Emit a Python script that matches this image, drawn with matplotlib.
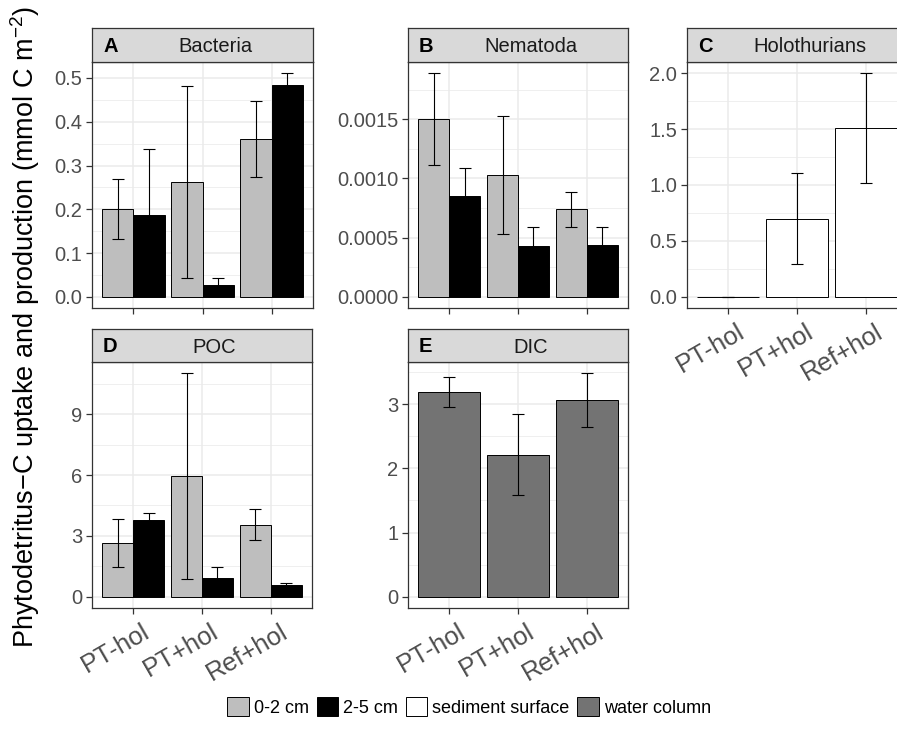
import matplotlib
matplotlib.use("Agg")
import matplotlib.pyplot as plt
from matplotlib.patches import Patch
from matplotlib.transforms import ScaledTranslation
import numpy as np

plt.rcParams['font.family'] = ['Liberation Sans', 'DejaVu Sans']
plt.rcParams['mathtext.fontset'] = 'custom'
plt.rcParams['mathtext.rm'] = 'Liberation Sans'
plt.rcParams['mathtext.it'] = 'Liberation Sans:italic'
plt.rcParams['mathtext.default'] = 'regular'

# ---------------- data ----------------
treatments = ["PT-hol", "PT+hol", "Ref+hol"]

bact_02 = [0.201, 0.262, 0.361]
bact_02_sd = [0.069, 0.220, 0.087]
bact_25 = [0.186, 0.027, 0.485]
bact_25_sd = [0.152, 0.015, 0.026]

nema_02 = [0.00150, 0.00103, 0.00074]
nema_02_sd = [0.00039, 0.00050, 0.00015]
nema_25 = [0.00085, 0.00043, 0.00044]
nema_25_sd = [0.00024, 0.00016, 0.00015]

holo = [0.0, 0.70, 1.51]
holo_sd = [0.0, 0.41, 0.49]

poc_02 = [2.64, 5.94, 3.56]
poc_02_sd = [1.19, 5.08, 0.77]
poc_25 = [3.80, 0.94, 0.59]
poc_25_sd = [0.33, 0.53, 0.07]

dic = [3.19, 2.21, 3.06]
dic_sd = [0.23, 0.63, 0.42]

ticks_A = [0.0, 0.1, 0.2, 0.3, 0.4, 0.5]
labels_A = ["0.0", "0.1", "0.2", "0.3", "0.4", "0.5"]
ticks_B = [0.0, 0.0005, 0.0010, 0.0015]
labels_B = ["0.0000", "0.0005", "0.0010", "0.0015"]
ticks_C = [0.0, 0.5, 1.0, 1.5, 2.0]
labels_C = ["0.0", "0.5", "1.0", "1.5", "2.0"]
ticks_D = [0, 3, 6, 9]
labels_D = ["0", "3", "6", "9"]
ticks_E = [0, 1, 2, 3]
labels_E = ["0", "1", "2", "3"]

legend_labels = ["0-2 cm", "2-5 cm", "sediment surface", "water column"]
col_02 = "#bebebe"
col_25 = "#000000"
col_surf = "#ffffff"
col_water = "#737373"

# ---------------- layout ----------------
W, H = 897, 733
fig = plt.figure(figsize=(W / 100, H / 100), dpi=100)

TICK_FS = 14.5
XTICK_FS = 18.5
STRIP_FS = 14.5
GRID_MAJ = "#ebebeb"
BORDER = "#333333"


def make_panel(l, r, strip_top, strip_bot, bottom, letter, title):
    ax = fig.add_axes([l / W, 1 - bottom / H, (r - l) / W, (bottom - strip_bot) / H])
    sax = fig.add_axes([l / W, 1 - strip_bot / H, (r - l) / W, (strip_bot - strip_top) / H])
    sax.set_facecolor("#d9d9d9")
    sax.set_xticks([])
    sax.set_yticks([])
    for s in sax.spines.values():
        s.set_color(BORDER)
        s.set_linewidth(0.9)
    sax.text(11 / (r - l), 0.47, letter, transform=sax.transAxes, fontsize=STRIP_FS,
             fontweight="bold", color="black", ha="left", va="center")
    sax.text(0.5 + 12.5 / (r - l), 0.45, title, transform=sax.transAxes, fontsize=STRIP_FS,
             color="#1a1a1a", ha="center", va="center")
    for s in ax.spines.values():
        s.set_color(BORDER)
        s.set_linewidth(0.9)
    ax.set_axisbelow(True)
    return ax


def finish(ax, ticks, labels, highs, show_x):
    top = max(highs)
    rng = top - 0.0
    ax.set_yticks(ticks)
    ax.set_yticklabels(labels)
    step = ticks[1] - ticks[0]
    minor = [t + step / 2 for t in ticks]
    ax.set_yticks(minor, minor=True)
    ax.set_xticks([1, 2, 3])
    ax.set_ylim(0 - 0.05 * rng, top + 0.05 * rng)
    ax.set_xlim(0.4, 3.6)
    ax.grid(True, which="major", color=GRID_MAJ, linewidth=1.1)
    ax.grid(True, which="minor", axis="y", color=GRID_MAJ, linewidth=0.55)
    ax.tick_params(axis="both", which="major", length=4, width=0.9, color=BORDER,
                   labelcolor="#4d4d4d", labelsize=TICK_FS, pad=3)
    ax.tick_params(axis="y", which="minor", length=0)
    if show_x:
        ax.set_xticklabels(treatments, rotation=30, ha="right", va="top",
                           rotation_mode="anchor", fontsize=XTICK_FS, color="#4d4d4d")
        off = ScaledTranslation(9 / 100, -2 / 100, fig.dpi_scale_trans)
        for lab in ax.get_xticklabels():
            lab.set_transform(lab.get_transform() + off)
    else:
        ax.set_xticklabels([])


def dodge_bars(ax, m1, s1, m2, s2):
    x = np.arange(1, 4)
    ax.bar(x - 0.225, m1, width=0.45, color=col_02, edgecolor="black", linewidth=0.7, zorder=2)
    ax.bar(x + 0.225, m2, width=0.45, color=col_25, edgecolor="black", linewidth=0.7, zorder=2)
    ax.errorbar(x - 0.225, m1, yerr=s1, fmt="none", ecolor="black", elinewidth=0.8,
                capsize=4.3, capthick=0.8, zorder=3)
    ax.errorbar(x + 0.225, m2, yerr=s2, fmt="none", ecolor="black", elinewidth=0.8,
                capsize=4.3, capthick=0.8, zorder=3)
    return list(np.array(m1) + np.array(s1)) + list(np.array(m2) + np.array(s2))


def single_bars(ax, m, s, col):
    x = np.arange(1, 4)
    ax.bar(x, m, width=0.9, color=col, edgecolor="black", linewidth=0.7, zorder=2)
    ax.errorbar(x, m, yerr=s, fmt="none", ecolor="black", elinewidth=0.8,
                capsize=4.3, capthick=0.8, zorder=3)
    return list(np.array(m) + np.array(s))


axA = make_panel(92, 313, 28, 62, 308, "A", "Bacteria")
hA = dodge_bars(axA, bact_02, bact_02_sd, bact_25, bact_25_sd)
finish(axA, ticks_A, labels_A, hA, False)

axB = make_panel(408, 628, 28, 62, 308, "B", "Nematoda")
hB = dodge_bars(axB, nema_02, nema_02_sd, nema_25, nema_25_sd)
finish(axB, ticks_B, labels_B, hB, False)

axC = make_panel(687, 907, 28, 62, 308, "C", "Holothurians")
hC = single_bars(axC, holo, holo_sd, col_surf)
finish(axC, ticks_C, labels_C, hC, True)

axD = make_panel(92, 312, 329, 362, 608, "D", "POC")
hD = dodge_bars(axD, poc_02, poc_02_sd, poc_25, poc_25_sd)
finish(axD, ticks_D, labels_D, hD, True)

axE = make_panel(408, 628, 329, 362, 608, "E", "DIC")
hE = single_bars(axE, dic, dic_sd, col_water)
finish(axE, ticks_E, labels_E, hE, True)

fig.text(25 / W, 1 - 327 / H,
         r"Phytodetritus$-$C uptake and production (mmol C m$^{-2}$)",
         rotation=90, ha="center", va="center", fontsize=19.5, color="black")

handles = [Patch(facecolor=c, edgecolor="black", linewidth=0.7)
           for c in [col_02, col_25, col_surf, col_water]]
fig.legend(handles, legend_labels, loc="center", bbox_to_anchor=(469 / W, 1 - 707 / H),
           ncol=4, frameon=False, fontsize=13, handlelength=1.2, handleheight=1.2,
           handletextpad=0.25, columnspacing=0.45, borderpad=0)

fig.savefig("out.png", dpi=100)
